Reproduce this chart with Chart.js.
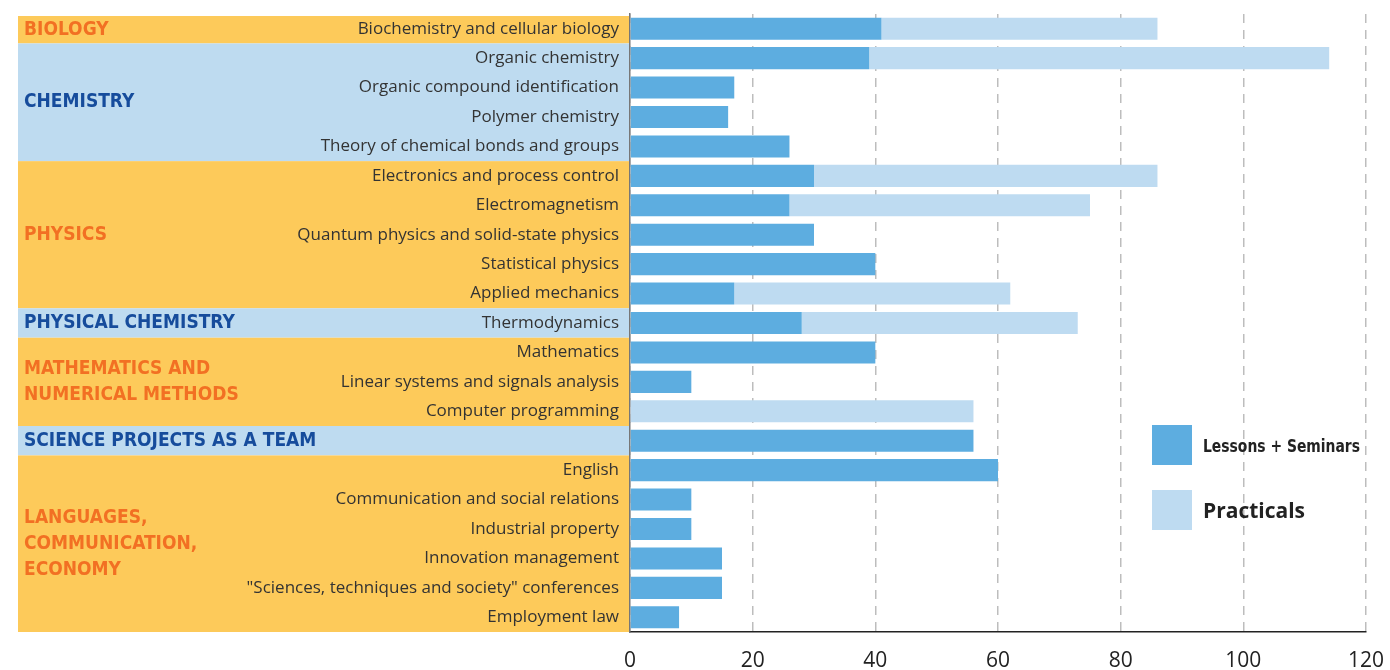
<!DOCTYPE html>
<html>
<head>
<meta charset="utf-8">
<script src="https://cdn.jsdelivr.net/npm/chart.js@4"></script>
<style>
  html, body { margin: 0; padding: 0; background: #fff; }
  #wrap { width: 1390px; height: 670px; }
</style>
</head>
<body>
<div id="wrap"><canvas id="coursesChart"></canvas></div>
<script>
// courses, top to bottom
const courses = [
    'Biochemistry and cellular biology',
    'Organic chemistry',
    'Organic compound identification',
    'Polymer chemistry',
    'Theory of chemical bonds and groups',
    'Electronics and process control',
    'Electromagnetism',
    'Quantum physics and solid-state physics',
    'Statistical physics',
    'Applied mechanics',
    'Thermodynamics',
    'Mathematics',
    'Linear systems and signals analysis',
    'Computer programming',
    '',
    'English',
    'Communication and social relations',
    'Industrial property',
    'Innovation management',
    '"Sciences, techniques and society" conferences',
    'Employment law'
];
const lessons    = [41, 39, 17, 16, 26, 30, 26, 30, 40, 17, 28, 40, 10, 0, 56, 60, 10, 10, 15, 15, 8];
const practicals = [45, 75, 0, 0, 0, 56, 49, 0, 0, 45, 45, 0, 0, 56, 0, 0, 0, 0, 0, 0, 0];

// subject groups (rows per group, in order)
const groups = [
    ['BIOLOGY'],
    ['CHEMISTRY'],
    ['PHYSICS'],
    ['PHYSICAL CHEMISTRY'],
    ['MATHEMATICS AND', 'NUMERICAL METHODS'],
    ['SCIENCE PROJECTS AS A TEAM'],
    ['LANGUAGES,', 'COMMUNICATION,', 'ECONOMY']
];
const groupSizes = [1, 4, 5, 1, 3, 1, 6];

const xTicks = [0, 20, 40, 60, 80, 100, 120];

// couleurs
const DARK = 'rgb(93, 173, 224)';
const LIGHT = 'rgb(190, 219, 241)';
const BAND_ORANGE = 'rgb(253, 202, 90)';
const BAND_BLUE = 'rgb(190, 219, 240)';

// fonds colorés + titres des groupes
const groupBands = {
    id: 'groupBands',
    beforeDraw(chart) {
        const ctx = chart.ctx;
        const y = chart.scales.y;
        const left = 18;
        const right = chart.chartArea.left;
        const half = (y.getPixelForValue(1) - y.getPixelForValue(0)) / 2;
        let row = 0;
        ctx.save();
        groups.forEach((lines, g) => {
            const first = row, last = row + groupSizes[g] - 1;
            let top = y.getPixelForValue(first) - half;
            const bottom = y.getPixelForValue(last) + half;
            if (g === 0) top += 2;
            const orange = g % 2 === 0;
            ctx.fillStyle = orange ? BAND_ORANGE : BAND_BLUE;
            ctx.fillRect(left, top, right - left, bottom - top);

            ctx.fillStyle = orange ? 'rgb(242, 112, 35)' : 'rgb(22, 76, 156)';
            ctx.font = 'bold 19px "DejaVu Sans Condensed"';
            ctx.textAlign = 'left';
            ctx.textBaseline = 'middle';
            const lh = 26;
            const mid = (top + bottom) / 2 - (lines.length - 1) * lh / 2;
            lines.forEach((t, i) => ctx.fillText(t, left + 6, mid + i * lh));
            row = last + 1;
        });
        ctx.restore();
    }
};

// légende à droite
const sideLegend = {
    id: 'sideLegend',
    afterDraw(chart) {
        const ctx = chart.ctx;
        const fonts = ['bold 18px "DejaVu Sans Condensed"', 'bold 21px "Open Sans"'];
        const widths = [157, 110];
        const x0 = 1152, y0 = 425;
        ctx.save();
        chart.data.datasets.forEach((ds, i) => {
            const yy = y0 + i * 65;
            ctx.fillStyle = ds.backgroundColor;
            ctx.fillRect(x0, yy, 40, 40);
            ctx.fillStyle = '#222';
            ctx.font = fonts[i];
            ctx.textAlign = 'left';
            ctx.textBaseline = 'middle';
            ctx.fillText(ds.label, x0 + 51, yy + 22, widths[i]);
        });
        ctx.restore();
    }
};

const ctx = document.getElementById('coursesChart');

new Chart(ctx, {
    type: 'bar',
    data: {
        labels: courses,
        datasets: [
            {
                label: 'Lessons + Seminars',
                data: lessons,
                backgroundColor: DARK
            },
            {
                label: 'Practicals',
                data: practicals,
                backgroundColor: LIGHT
            }
        ]
    },
    options: {
        indexAxis: 'y',
        responsive: true,
        maintainAspectRatio: false,
        animation: false,
        categoryPercentage: 0.75,
        barPercentage: 1,
        layout: {
            padding: { left: 18, right: 24, top: 14, bottom: 0 }
        },
        scales: {
            x: {
                stacked: true,
                min: 0,
                max: 120,
                afterBuildTicks: (scale) => { scale.ticks = xTicks.map(v => ({ value: v })); },
                afterFit: (scale) => {
                    scale.height = 38;
                    scale.paddingLeft = 0;
                    scale.paddingRight = 0;
                },
                grid: {
                    color: '#bdbdbd',
                    lineWidth: 1.5,
                    drawTicks: false
                },
                border: {
                    display: true,
                    color: '#222',
                    width: 1.5,
                    dash: [9, 7]
                },
                ticks: {
                    padding: 16,
                    color: '#222',
                    font: { family: 'Open Sans', size: 21 }
                }
            },
            y: {
                stacked: true,
                afterFit: (scale) => {
                    scale.width = 612;
                    scale.paddingTop = 0;
                    scale.paddingBottom = 0;
                },
                grid: { display: false, drawTicks: false },
                border: { display: true, color: '#777', width: 1.5 },
                ticks: {
                    padding: 11,
                    autoSkip: false,
                    color: '#333',
                    font: { family: 'Open Sans', size: 17 }
                }
            }
        },
        plugins: {
            legend: { display: false },
            tooltip: { enabled: false }
        }
    },
    plugins: [groupBands, sideLegend]
});
</script>
</body>
</html>
